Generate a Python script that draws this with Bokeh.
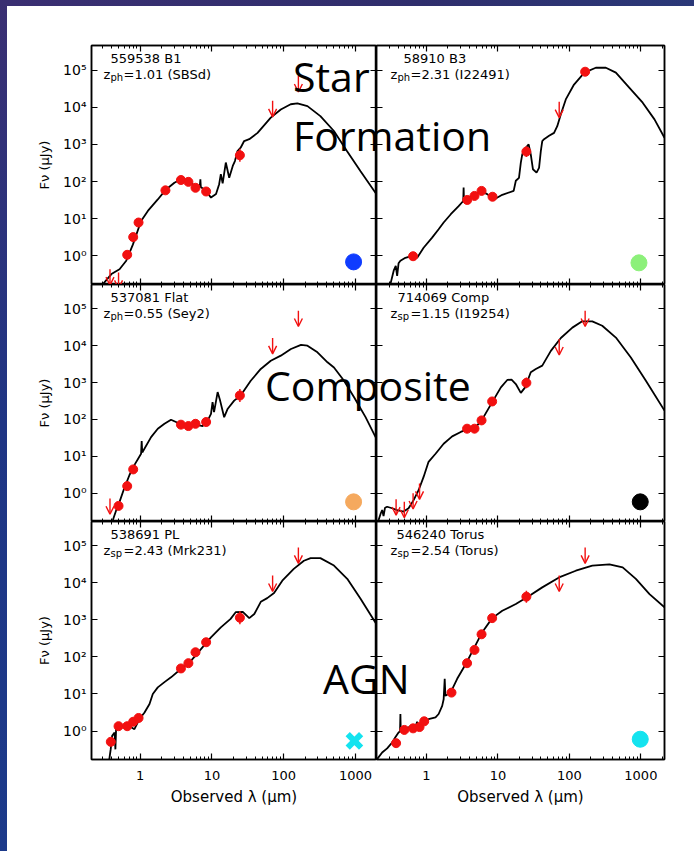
from bokeh.plotting import figure
from bokeh.layouts import row, column, Spacer
from bokeh.models import Range1d, LogAxis, FixedTicker, Label, Arrow, OpenHead, ColumnDataSource, Div
from bokeh.embed import file_html
from bokeh.resources import INLINE

# ---------------- data ----------------
names = ["559538 B1", "58910 B3", "537081 Flat", "714069 Comp", "538691 PL", "546240 Torus"]
z_kind = ["ph", "ph", "ph", "sp", "sp", "sp"]
z_vals = ["1.01", "2.31", "0.55", "1.15", "2.43", "2.54"]
templates = ["SBSd", "I22491", "Sey2", "I19254", "Mrk231", "Torus"]

y_ticks = [1, 10, 100, 1000, 10000, 100000]
y_tick_labels = ["10⁰", "10¹", "10²", "10³", "10⁴", "10⁵"]
x_ticks = [1, 10, 100, 1000]
x_tick_labels = ["1", "10", "100", "1000"]

# panel 1: 559538 B1 (SBSd)
b1_wave = [0.303, 0.398, 0.516, 0.64, 0.794, 1.03, 1.28, 1.76, 2.25, 3.0, 3.7, 4.84, 6.0, 6.76, 6.9, 7.0,
           8.26, 9.7, 11.4, 12.6, 13.3, 14.1, 15.6, 17.4, 19.5, 20.9, 22.7, 25.1, 28.1, 33.1, 43.2, 66,
           91, 125, 155, 214, 324, 500, 759, 1175, 1950]
b1_flux = [0.174, 0.324, 0.437, 0.74, 2.04, 8.7, 16.2, 33, 59, 93, 115, 105, 69, 71, 115, 71,
           56, 37, 46, 85, 158, 89, 324, 126, 263, 355, 660, 813, 1230, 1380, 2040, 5250,
           8700, 12000, 12600, 10700, 5750, 2290, 660, 190, 46]
b1_pt_wave = [0.66, 0.80, 0.95, 2.25, 3.7, 4.7, 5.9, 8.3, 24.5]
b1_pt_flux = [1.07, 3.2, 7.9, 58, 110, 98, 68, 54, 510]
b1_pt_err = [1.0, 1.0, 1.0, 1.0, 1.0, 1.0, 1.0, 1.0, 1.5]
b1_ul_wave = [0.38, 0.50, 70, 160]
b1_ul_flux = [0.44, 0.36, 14800, 69000]

# panel 2: 58910 B3 (I22491)
b3_wave = [0.313, 0.348, 0.372, 0.389, 0.407, 0.432, 0.507, 0.63, 0.741, 0.912, 1.20, 1.48, 1.74, 2.19,
           2.82, 3.27, 3.31, 3.35, 4.57, 5.9, 7.08, 8.8, 11.5, 16.6, 17.8, 19.7, 20.9, 21.9, 24.5, 26.9,
           28.8, 30.9, 34.7, 37.6, 39.8, 41.7, 44.2, 51.9, 61, 67.6, 75.9, 89, 116, 162, 234, 324,
           447, 692, 1060, 1550, 2140]
b3_flux = [0.174, 0.40, 0.54, 0.29, 0.63, 0.74, 0.89, 1.0, 0.89, 1.66, 3.1, 5.2, 7.9, 13.2,
           21.9, 30, 69, 31, 44, 54, 46, 33, 44, 56, 105, 126, 324, 537, 813, 1000,
           537, 214, 174, 234, 660, 1230, 1380, 1700, 2040, 3090, 6460, 16200, 40700, 85000, 115000, 115000,
           85000, 33100, 13200, 4700, 1510]
b3_pt_wave = [0.65, 3.72, 4.7, 5.9, 8.4, 25, 166]
b3_pt_flux = [0.98, 32, 41, 56, 39, 640, 90000]
b3_pt_err = [1.0, 1.0, 1.0, 1.0, 1.0, 1.4, 1.0]
b3_ul_wave = [72]
b3_ul_flux = [14100]

# panel 3: 537081 Flat (Sey2)
fl_wave = [0.417, 0.465, 0.516, 0.60, 0.71, 0.83, 1.03, 1.05, 1.07, 1.42, 1.76, 2.18, 2.69, 3.16, 3.72,
           4.74, 6.03, 7.41, 8.71, 9.7, 10.2, 10.7, 12.0, 13.0, 14.8, 16.6, 20.4, 25.1, 34.7, 47.9, 66,
           91, 126, 174, 214, 295, 407, 501, 692, 955, 1380, 1950]
fl_flux = [0.186, 0.347, 0.58, 1.35, 3.1, 5.75, 11.7, 26, 12.6, 33, 56, 76, 98, 85, 72,
           66, 72, 66, 93, 141, 295, 158, 550, 324, 115, 195, 324, 447, 1120, 2340, 3890,
           5370, 8130, 10500, 10000, 6610, 3550, 2570, 1120, 398, 115, 30]
fl_pt_wave = [0.50, 0.66, 0.80, 3.7, 4.7, 5.9, 8.3, 24.5]
fl_pt_flux = [0.45, 1.55, 4.4, 72, 66, 76, 85, 445]
fl_pt_err = [1.0, 1.0, 1.0, 1.0, 1.0, 1.0, 1.0, 1.5]
fl_ul_wave = [0.38, 70, 160]
fl_ul_flux = [0.72, 16200, 89000]

# panel 4: 714069 Comp (I19254)
cp_wave = [0.214, 0.229, 0.24, 0.251, 0.263, 0.282, 0.331, 0.389, 0.479, 0.562, 0.661, 0.776, 0.912, 1.07,
           1.34, 1.74, 2.29, 3.02, 3.72, 4.9, 6.03, 8.32, 11.0, 13.5, 15.5, 17.8, 20.9, 24.0, 28.8, 33.9,
           41.7, 55, 75.9, 110, 151, 209, 288, 447, 724, 1175, 2140]
cp_flux = [0.186, 0.28, 0.347, 0.24, 0.40, 0.427, 0.389, 0.347, 0.316, 0.389, 0.646, 1.2, 2.75, 7.08,
           11.7, 21.9, 34.7, 45.7, 53.7, 61.7, 100, 295, 741, 1175, 1200, 912, 525, 741, 1905, 2340,
           2880, 7240, 16200, 30900, 45700, 45700, 34700, 16600, 4790, 1120, 174]
cp_pt_wave = [3.7, 4.7, 5.9, 8.3, 25]
cp_pt_flux = [56, 56, 94, 307, 980]
cp_pt_err = [1.0, 1.0, 1.0, 1.0, 1.4]
cp_ul_wave = [0.376, 0.49, 0.65, 0.80, 72, 166]
cp_ul_flux = [0.68, 0.58, 1.0, 1.82, 15100, 89100]

# panel 5: 538691 PL (Mrk231)
pl_wave = [0.372, 0.389, 0.407, 0.44, 0.452, 0.462, 0.479, 0.55, 0.676, 0.75, 0.832, 0.977, 1.15, 1.35,
           1.5, 1.76, 2.18, 2.69, 3.72, 5.13, 7.08, 9.68, 13.3, 18.2, 21.4, 26.9, 33.1, 38.9, 47.9, 58.9,
           73.3, 95.5, 138, 191, 237, 324, 501, 767, 1175, 1950]
pl_flux = [0.174, 0.324, 0.74, 0.91, 0.32, 1.12, 1.26, 1.35, 1.55, 1.26, 1.12, 2.09, 3.16, 5.37,
           10, 15.1, 20.9, 28.2, 47.9, 79.4, 166, 339, 631, 1070, 1620, 1660, 1120, 1450, 3090, 3890,
           5370, 11500, 24000, 39800, 46800, 46800, 29500, 12900, 3720, 776]
pl_pt_wave = [0.39, 0.50, 0.66, 0.80, 0.95, 3.7, 4.7, 5.9, 8.3, 24.5]
pl_pt_flux = [0.51, 1.35, 1.35, 1.78, 2.25, 49, 68, 134, 250, 1150]
pl_pt_err = [1.0, 1.0, 1.0, 1.0, 1.0, 1.0, 1.0, 1.0, 1.0, 1.5]
pl_ul_wave = [70, 160]
pl_ul_flux = [15800, 91000]

# panel 6: 546240 Torus (Torus)
to_wave = [0.204, 0.24, 0.282, 0.331, 0.367, 0.407, 0.427, 0.432, 0.437, 0.457, 0.562, 0.708, 0.741, 0.759,
           0.871, 1.07, 1.34, 1.48, 1.66, 1.74, 1.80, 1.84, 2.19, 2.69, 3.55, 4.57, 6.03, 8.32, 11.5,
           17.8, 26.9, 41.7, 71.6, 123, 209, 363, 556, 851, 1320, 2140]
to_flux = [0.174, 0.263, 0.339, 0.49, 0.676, 0.91, 1.0, 2.88, 1.05, 1.12, 1.26, 1.38, 1.78, 1.41,
           1.66, 2.09, 2.34, 2.88, 4.79, 7.24, 25.7, 8.9, 11.2, 25.7, 64.6, 166, 468, 1120, 1780,
           2690, 4370, 7590, 14100, 21400, 29500, 31600, 26300, 12900, 5010, 2190]
to_pt_wave = [0.376, 0.49, 0.65, 0.80, 0.93, 2.24, 3.7, 4.7, 5.9, 8.3, 25]
to_pt_flux = [0.47, 1.07, 1.18, 1.28, 1.83, 10.9, 68, 155, 410, 1120, 4250]
to_pt_err = [1.0, 1.0, 1.0, 1.0, 1.0, 1.0, 1.0, 1.0, 1.0, 1.0, 1.45]
to_ul_wave = [72, 166]
to_ul_flux = [15800, 91000]

# class markers (bottom right symbol of each panel)
class_wave = [940, 940, 940, 980, 965, 980]
class_flux = [0.69, 0.65, 0.58, 0.58, 0.54, 0.60]
class_color = ["#0f3cff", "#8cf07a", "#f5a95e", "#000000", "#14e3ef", "#14e3ef"]
class_marker = ["circle", "circle", "circle", "circle", "x", "circle"]

overlay_texts = ["Star", "Formation", "Composite", "AGN"]

# ---------------- layout / style ----------------
panels = [
    (b1_wave, b1_flux, b1_pt_wave, b1_pt_flux, b1_pt_err, b1_ul_wave, b1_ul_flux),
    (b3_wave, b3_flux, b3_pt_wave, b3_pt_flux, b3_pt_err, b3_ul_wave, b3_ul_flux),
    (fl_wave, fl_flux, fl_pt_wave, fl_pt_flux, fl_pt_err, fl_ul_wave, fl_ul_flux),
    (cp_wave, cp_flux, cp_pt_wave, cp_pt_flux, cp_pt_err, cp_ul_wave, cp_ul_flux),
    (pl_wave, pl_flux, pl_pt_wave, pl_pt_flux, pl_pt_err, pl_ul_wave, pl_ul_flux),
    (to_wave, to_flux, to_pt_wave, to_pt_flux, to_pt_err, to_ul_wave, to_ul_flux),
]

COLS = [dict(xr=(0.21, 1960), fw=285, bl=84, br=0),
        dict(xr=(0.20, 2140), fw=288, bl=0, br=30)]
ROWS = [dict(fh=239, bt=39, bb=0),
        dict(fh=237, bt=0, bb=0),
        dict(fh=238, bt=0, bb=92)]
YR = (0.17, 4.57e5)
line1_dx = [19, 27, 19, 21, 19, 20]
line2_dx = [12, 14, 12, 14, 12, 14]
# page position (left, top) of the big captions
overlay_pos = [(293, 56), (293, 115), (265, 365), (323, 658)]

FONT = "DejaVu Sans"
RED = "#f21010"
minor_x = [k * 10.0 ** e for e in range(-1, 4) for k in range(2, 10)]


def setup_axis(ax, major, labels, minor=None, show=False, size="13px"):
    ax.ticker = FixedTicker(ticks=major, minor_ticks=minor or [])
    ax.major_tick_in = 6
    ax.major_tick_out = 0
    ax.minor_tick_in = 3
    ax.minor_tick_out = 0
    ax.major_tick_line_width = 1.2
    ax.minor_tick_line_width = 1.0
    ax.axis_line_width = 1.5
    ax.axis_line_color = "black"
    ax.major_tick_line_color = "black"
    if minor is None:
        ax.minor_tick_line_color = None
    else:
        ax.minor_tick_line_color = "black"
    if show:
        ax.major_label_overrides = dict(zip(major, labels))
        ax.major_label_text_font = FONT
        ax.major_label_text_font_size = size
        ax.major_label_text_color = "black"
        ax.axis_label_text_color = "black"
        ax.axis_label_text_font = FONT
        ax.axis_label_text_font_style = "normal"
    else:
        ax.major_label_overrides = {t: "" for t in major}
        ax.major_label_text_font_size = "1px"
        ax.major_label_text_color = None
        ax.major_label_standoff = 0


figs = []
for i, (cw, cf, pw, pf, pe, uw, uf) in enumerate(panels):
    r, c = divmod(i, 2)
    C, R = COLS[c], ROWS[r]
    p = figure(x_axis_type="log", y_axis_type="log",
               x_range=Range1d(*C["xr"]), y_range=Range1d(*YR),
               frame_width=C["fw"], frame_height=R["fh"],
               min_border_left=C["bl"], min_border_right=C["br"],
               min_border_top=R["bt"], min_border_bottom=R["bb"],
               toolbar_location=None, output_backend="svg",
               background_fill_color="white", border_fill_color="white")
    p.outline_line_color = "black"
    p.outline_line_width = 1.5
    p.xgrid.visible = False
    p.ygrid.visible = False

    # axes: labelled on outer edges only, inward ticks on every side
    setup_axis(p.xaxis[0], x_ticks, x_tick_labels, minor_x, show=(r == 2), size="13px")
    setup_axis(p.yaxis[0], y_ticks, y_tick_labels, None, show=(c == 0), size="14px")
    if r == 2:
        p.xaxis[0].axis_label = "Observed λ (μm)"
        p.xaxis[0].axis_label_text_font_size = "15px"
        p.xaxis[0].major_label_standoff = 11
        p.xaxis[0].axis_label_standoff = 5
    if c == 0:
        p.yaxis[0].axis_label = "Fν (μJy)"
        p.yaxis[0].axis_label_text_font_size = "13px"
        p.yaxis[0].major_label_standoff = 5
        p.yaxis[0].axis_label_standoff = 8
    top = LogAxis()
    setup_axis(top, x_ticks, x_tick_labels, minor_x)
    p.add_layout(top, "above")
    right = LogAxis()
    setup_axis(right, y_ticks, y_tick_labels, None)
    p.add_layout(right, "right")

    # template curve
    p.line(cw, cf, line_color="black", line_width=1.8)

    # photometry with error bars
    p.segment(x0=pw, y0=[f / e for f, e in zip(pf, pe)], x1=pw, y1=[f * e for f, e in zip(pf, pe)],
              line_color=RED, line_width=1.5)
    p.scatter(pw, pf, size=9, marker="circle", fill_color=RED, line_color=RED)

    # upper limits
    src = ColumnDataSource(dict(x=uw, y0=uf, y1=[f * 10 ** -0.43 for f in uf]))
    p.add_layout(Arrow(x_start="x", y_start="y0", x_end="x", y_end="y1", source=src,
                       line_color=RED, line_width=1.4,
                       end=OpenHead(size=8, line_color=RED, line_width=1.4)))

    # class symbol
    if class_marker[i] == "x":
        p.scatter([class_wave[i]], [class_flux[i]], marker="x", size=19,
                  line_color=class_color[i], line_width=6)
    else:
        p.scatter([class_wave[i]], [class_flux[i]], marker="circle", size=16,
                  fill_color=class_color[i], line_color=class_color[i])

    # panel labels
    x0, y0 = C["xr"][0], YR[1]
    lab = dict(text_font=FONT, text_font_size="13px", text_baseline="middle", text_color="black")
    p.add_layout(Label(x=x0, y=y0, x_offset=line1_dx[i], y_offset=-13, text=names[i], **lab))
    p.add_layout(Label(x=x0, y=y0, x_offset=line2_dx[i], y_offset=-29, text="z", **lab))
    p.add_layout(Label(x=x0, y=y0, x_offset=line2_dx[i] + 7, y_offset=-32, text=z_kind[i],
                       text_font=FONT, text_font_size="10px", text_baseline="middle", text_color="black"))
    p.add_layout(Label(x=x0, y=y0, x_offset=line2_dx[i] + 20, y_offset=-29,
                       text="=" + z_vals[i] + " (" + templates[i] + ")", **lab))
    figs.append(p)

grid = column(row(figs[0], figs[1]), row(figs[2], figs[3]), row(figs[4], figs[5]))
left_strip = Spacer(width=7, height=851,
                    styles={"background": "linear-gradient(180deg, #3a2f72 0%, #1f3584 50%, #1c3a8a 100%)"})
top_strip = Spacer(width=687, height=6,
                   styles={"background": "linear-gradient(90deg, #3a2f72 0%, #2f2e6c 60%, #2a3878 100%)"})

captions = []
for txt, (lx, ty) in zip(overlay_texts, overlay_pos):
    captions.append(Div(text=txt, width=240, height=50,
                        styles={"position": "absolute", "left": f"{lx}px", "top": f"{ty}px",
                                "font-family": "Open Sans", "font-size": "41px", "line-height": "41px",
                                "color": "black", "z-index": "10", "white-space": "nowrap",
                                "pointer-events": "none", "margin": "0", "padding": "0"}))

root = column(row(left_strip, column(top_strip, grid)), *captions,
              styles={"position": "relative"})

open("out.html", "w").write(file_html(root, INLINE))
